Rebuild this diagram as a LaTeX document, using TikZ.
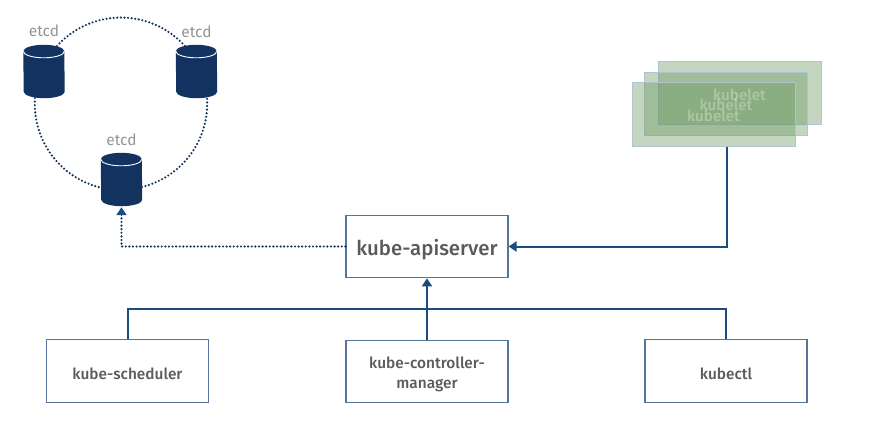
\documentclass[tikz,border=0pt]{standalone}
\usepackage{fontspec}
\setmainfont{Fira Sans}[UprightFont=* Medium]
\newfontfamily\regfont{Fira Sans}
\usetikzlibrary{arrows.meta,calc}
\definecolor{navy}{HTML}{12335F}
\definecolor{wire}{HTML}{1C4B7E}
\definecolor{edgeblue}{HTML}{55759E}
\definecolor{txt}{HTML}{5A5A5A}
\definecolor{kgreen}{HTML}{68965C}
\newcommand{\dn}[2][2.5pt]{\raisebox{-#1}[\height][\depth]{#2}}
\tikzset{
  box/.style={draw=edgeblue,line width=1.3pt,fill=white,minimum width=162pt,minimum height=62.5pt,inner sep=0,align=center,text=txt,font=\fontsize{15.4}{20}\selectfont},
  cyl/.style={minimum width=41pt,minimum height=53pt,inner sep=0,draw=none},
  cyllabel/.style={text=black!42,font=\regfont\fontsize{15.5}{16}\selectfont,inner sep=0},
  kube/.style={fill=kgreen,fill opacity=.39,draw=edgeblue!45,line width=.8pt,minimum width=163pt,minimum height=63.5pt,inner sep=0},
  kubetext/.style={text=white,text opacity=.3,font=\fontsize{15.2}{16}\selectfont,inner sep=0},
  wireline/.style={draw=wire,line width=2pt},
  tip/.style={-{Triangle[length=8pt,width=10pt]}},
  dots/.style={draw=navy,line width=2.4pt,line cap=round,dash pattern=on 0pt off 3.6pt},
}
\begin{document}
\begin{tikzpicture}[x=1pt,y=-1pt]
\useasboundingbox (0,0) rectangle (872,420);
% ring
\coordinate (ring1) at (57,46);
\coordinate (ring2) at (35,98);
\coordinate (ring3) at (142,187);
\draw[dots] (ring1) arc[start angle=138,end angle=42,radius=86pt];
\draw[dots] (ring2) arc[start angle=176,end angle=256,radius=86pt];
\draw[dots] (ring3) arc[start angle=-76,end angle=4,radius=86pt];
% etcd
\node[cyl] (e1) at (44,71.5) {};
\node[cyl] (e2) at (196.5,71.5) {};
\node[cyl] (e3) at (121.5,179.5) {};
\foreach \c in {e1,e2,e3}{
  \fill[navy] ($(\c.north west)+(0,6.5)$) arc[start angle=180,end angle=0,x radius=20.5pt,y radius=6.5pt]
     -- ($(\c.south east)+(0,-6.5)$) arc[start angle=0,end angle=-180,x radius=20.5pt,y radius=6.5pt] -- cycle;
  \draw[white,line width=.9pt] ($(\c.north west)+(0,6.5)$) arc[start angle=180,end angle=360,x radius=20.5pt,y radius=6.5pt];
}
\node[cyllabel] (l1) at (44,31) {etcd};
\node[cyllabel] (l2) at (196.5,32) {etcd};
\node[cyllabel] (l3) at (121.5,140) {etcd};
% kubelets
\node[kube] (k3) at (739.5,93) {};
\node[kube] (k2) at (725.5,104) {};
\node[kube] (k1) at (713.5,114.5) {};
\node[kubetext] (t3) at (739.5,95) {kubelet};
\node[kubetext] (t2) at (726,105) {kubelet};
\node[kubetext] (t1) at (713.5,116) {kubelet};
% boxes
\node[box,font=\fontsize{20.4}{24}\selectfont] (api) at (427,246.5) {\dn[3pt]{kube-apiserver}};
\node[box] (sched) at (127.5,371) {\dn{kube-scheduler}};
\node[box] (ctrl) at (427,371.5) {\dn{kube-controller-}\\\dn{manager}};
\node[box] (ctl) at (726,371) {\dn{kubectl}};
% connectors
\coordinate (kout) at (726.5,146.5);
\draw[wireline,tip] (kout) |- (api.east);
\draw[wireline] (sched.north) |- (427,309) -| (ctl.north);
\draw[wireline,tip] (ctrl.north) -- (api.south);
\draw[dots] (api.west) -| ($(e3.south)+(0,10)$);
\draw[wire,line width=1.6pt,tip] ($(e3.south)+(0,9)$) -- ($(e3.south)+(0,1)$);
\end{tikzpicture}
\end{document}
